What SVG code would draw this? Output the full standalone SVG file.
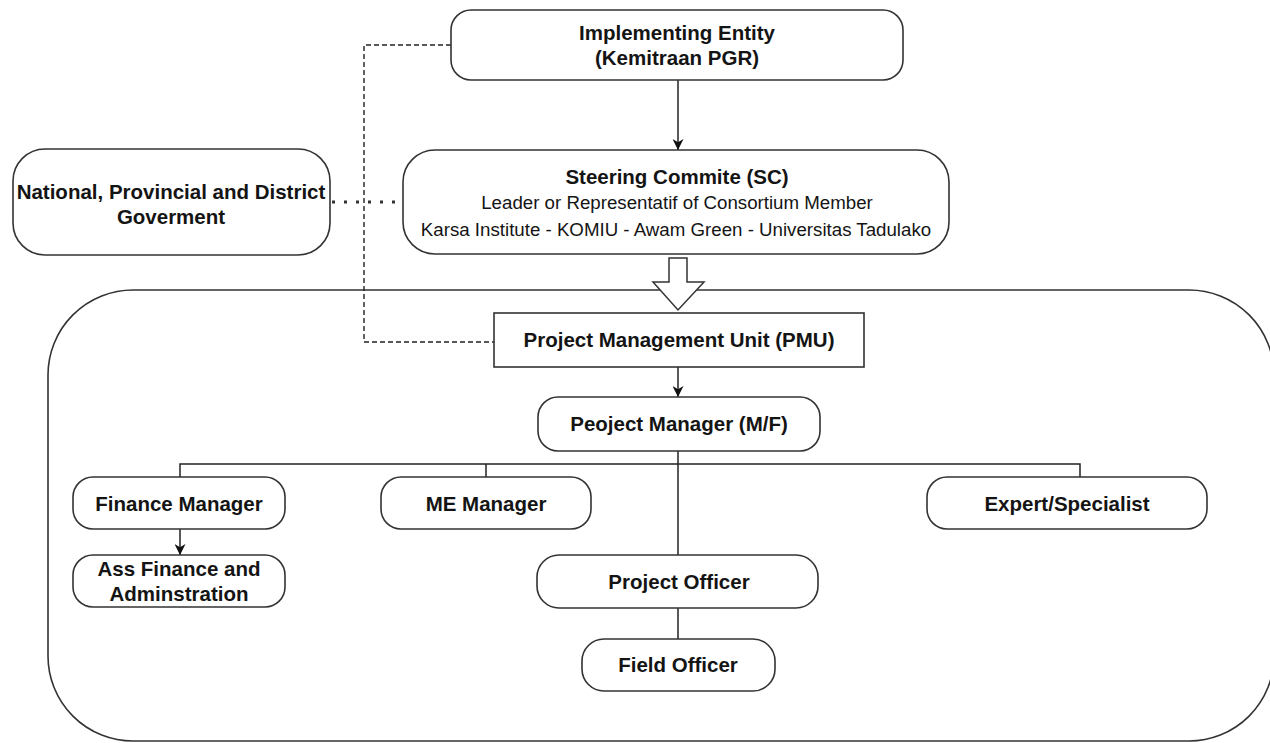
<svg xmlns="http://www.w3.org/2000/svg" width="1270" height="743" viewBox="0 0 1270 743">
  <style>
    .box { fill: #ffffff; stroke: #333333; stroke-width: 1.6; }
    .line { fill: none; stroke: #222222; stroke-width: 1.5; }
    .dash { fill: none; stroke: #222222; stroke-width: 1.4; stroke-dasharray: 5 3; }
    .dots { fill: none; stroke: #333333; stroke-width: 3; stroke-dasharray: 3 9; }
    .b { font-family: "Liberation Sans", Arial, sans-serif; font-weight: bold; font-size: 20.5px; fill: #141414; text-anchor: middle; }
    .r { font-family: "Liberation Sans", Arial, sans-serif; font-size: 18.7px; fill: #141414; text-anchor: middle; }
  </style>
  <defs>
    <marker id="arrow" viewBox="0 0 10 10" refX="10" refY="5" markerWidth="11" markerHeight="11" markerUnits="userSpaceOnUse" orient="auto">
      <path d="M0,0 L10,5 L0,10 L3,5 z" fill="#111111"/>
    </marker>
  </defs>
  <rect width="1270" height="743" fill="#ffffff"/>

  <!-- PMU container (right edge runs just past the canvas) -->
  <g id="pmu-container">
    <rect class="box" x="48" y="290" width="1226" height="451" rx="85" ry="85"/>
  </g>

  <!-- connectors -->
  <g id="connectors">
    <path class="line" d="M678,80 L678,150" marker-end="url(#arrow)"/>
    <path class="dash" d="M451,45 L364,45 L364,342 L494,342"/>
    <path class="dots" d="M332,202 L403,202"/>
    <path class="line" d="M678,367 L678,397" marker-end="url(#arrow)"/>
    <path class="line" d="M678,451 L678,555"/>
    <path class="line" d="M180,477 L180,464 L1080,464 L1080,477"/>
    <path class="line" d="M486,464 L486,477"/>
    <path class="line" d="M180,529 L180,555" marker-end="url(#arrow)"/>
    <path class="line" d="M678,608 L678,639"/>
    <!-- hollow block arrow from the steering committee into the PMU -->
    <path d="M669,258 L687,258 L687,282 L704,282 L678,310 L653,282 L669,282 Z" fill="#ffffff" stroke="#333333" stroke-width="1.5" stroke-linejoin="miter"/>
  </g>

  <g id="implementing-entity">
    <rect class="box" x="451" y="10" width="452" height="70" rx="20" ry="20"/>
    <text class="b" x="677" y="40">Implementing Entity</text>
    <text class="b" x="677" y="65">(Kemitraan PGR)</text>
  </g>

  <g id="steering-committee">
    <rect class="box" x="403" y="150" width="546" height="104" rx="32" ry="32"/>
    <text class="b" x="677" y="184">Steering Commite (SC)</text>
    <text class="r" x="677" y="209">Leader or Representatif of Consortium Member</text>
    <text class="r" x="676" y="236">Karsa Institute - KOMIU - Awam Green - Universitas Tadulako</text>
  </g>

  <g id="government">
    <rect class="box" x="13" y="149" width="317" height="106" rx="32" ry="32"/>
    <text class="b" x="171" y="199">National, Provincial and District</text>
    <text class="b" x="171" y="224">Goverment</text>
  </g>

  <g id="pmu">
    <rect class="box" x="494" y="313" width="370" height="54"/>
    <text class="b" x="679" y="347">Project Management Unit (PMU)</text>
  </g>

  <g id="project-manager">
    <rect class="box" x="538" y="397" width="282" height="54" rx="20" ry="20"/>
    <text class="b" x="679" y="431">Peoject Manager (M/F)</text>
  </g>

  <g id="finance-manager">
    <rect class="box" x="73" y="477" width="212" height="52" rx="20" ry="20"/>
    <text class="b" x="179" y="511">Finance Manager</text>
  </g>

  <g id="ass-finance">
    <rect class="box" x="73" y="555" width="212" height="52" rx="20" ry="20"/>
    <text class="b" x="179" y="576">Ass Finance and</text>
    <text class="b" x="179" y="601">Adminstration</text>
  </g>

  <g id="me-manager">
    <rect class="box" x="381" y="477" width="210" height="52" rx="20" ry="20"/>
    <text class="b" x="486" y="511">ME Manager</text>
  </g>

  <g id="expert">
    <rect class="box" x="927" y="477" width="280" height="52" rx="20" ry="20"/>
    <text class="b" x="1067" y="511">Expert/Specialist</text>
  </g>

  <g id="project-officer">
    <rect class="box" x="537" y="555" width="281" height="53" rx="22" ry="22"/>
    <text class="b" x="679" y="589">Project Officer</text>
  </g>

  <g id="field-officer">
    <rect class="box" x="582" y="639" width="193" height="52" rx="22" ry="22"/>
    <text class="b" x="678" y="672">Field Officer</text>
  </g>
</svg>
